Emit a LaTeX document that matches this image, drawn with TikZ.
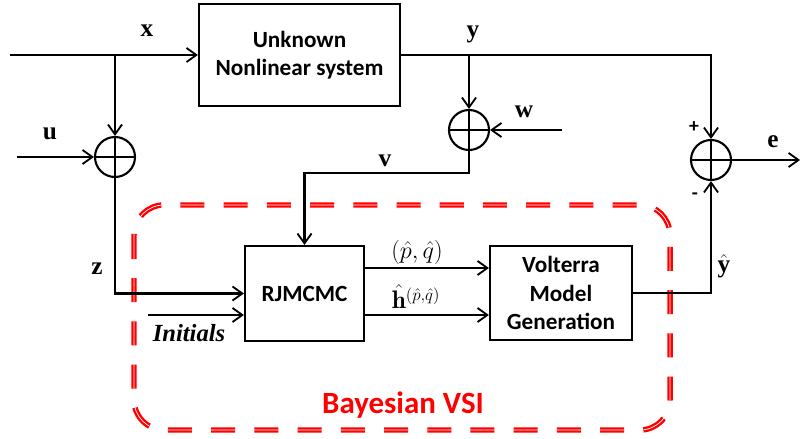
\documentclass[tikz,border=0pt]{standalone}
\usepackage{fontspec}
\usepackage{bm}
\setsansfont{Carlito}
\newfontfamily\lblfont{Liberation Serif}
\usetikzlibrary{arrows.meta}
\begin{document}
\begin{tikzpicture}[x={(0.025cm,0)},y={(0,-0.025cm)},
  line width=1.5pt,
  conn/.style={-{Straight Barb[length=7pt,width=10pt,line width=1.3pt]}},
  blk/.style={draw,line width=1.5pt,align=center,inner sep=0pt,
    font=\sffamily\bfseries\fontsize{16.5}{20}\selectfont},
  sumnode/.style={draw,circle,line width=1.5pt,minimum size=1cm,inner sep=0pt,
    path picture={\draw[line width=1.5pt] (path picture bounding box.north) -- (path picture bounding box.south)
      (path picture bounding box.west) -- (path picture bounding box.east);}},
  sig/.style={font=\lblfont\bfseries\fontsize{18}{21}\selectfont,inner sep=0pt},
  lbl/.style={font=\fontsize{18}{21}\selectfont,inner sep=0pt},
  sgn/.style={font=\sffamily\bfseries\fontsize{14}{16}\selectfont,inner sep=0pt},
  bayes/.style={draw=red,line width=1.7pt,double=white,double distance=0.5pt,
    dash pattern=on 0.6cm off 0.48cm,rounded corners=0.75cm},
  bayeslbl/.style={text=red,font=\sffamily\bfseries\fontsize{22}{26}\selectfont,inner sep=0pt}]
\useasboundingbox (0,0) rectangle (800,439);

% Bayesian VSI frame
\draw[bayes] (134,205) rectangle (670,430);
\node[bayeslbl] (bvsi) at (403,405) {Bayesian VSI};

% blocks
\node[blk,minimum width=5.025cm,minimum height=2.55cm] (ukn) at (299.5,55) {Unknown\\Nonlinear system};
\node[blk,minimum width=2.975cm,minimum height=2.375cm] (rj) at (304.5,293.5) {RJMCMC};
\node[blk,minimum width=3.55cm,minimum height=2.35cm] (vol) at (561,293) {Volterra\\Model\\Generation};

% summing junctions
\node[sumnode] (s1) at (115,157) {};
\node[sumnode] (s2) at (469,130) {};
\node[sumnode] (s3) at (711,160) {};

% free ends and branch points
\coordinate (xin) at (10,55);
\coordinate (xb) at (115,55);
\coordinate (uin) at (17,157);
\coordinate (yb) at (469,55);
\coordinate (win) at (562,130);
\coordinate (vc) at (304.5,173);
\coordinate (ein) at (800,160);
\coordinate (initin) at (148,315);
\coordinate (pq) at (0,268);
\coordinate (hh) at (0,315);

% connectors
\draw[conn] (xin) -- (ukn.west);
\draw[conn] (xb) -- (s1.north);
\draw[conn] (uin) -- (s1.west);
\draw[conn] (s1.south) |- (rj.west);
\draw[conn] (initin) -- (rj.west |- initin);
\draw[conn] (ukn.east) -| (s3.north);
\draw[conn] (yb) -- (s2.north);
\draw[conn] (win) -- (s2.east);
\draw[conn] (s2.south) |- (vc) -- (rj.north);
\draw[conn] (rj.east |- pq) -- (vol.west |- pq);
\draw[conn] (rj.east |- hh) -- (vol.west |- hh);
\draw[conn] (vol.east) -| (s3.south);
\draw[conn] (s3.east) -- (ein);

% labels
\node[sig] (lx) at (147,31) {x};
\node[sig] (ly) at (473,34) {y};
\node[sig] (lu) at (50,134) {u};
\node[sig] (lw) at (524,112) {w};
\node[sig] (lv) at (385,161) {v};
\node[sig] (lz) at (97,269) {z};
\node[sig] (le) at (773,142) {e};
\node[sgn] (lp) at (694,127) {+};
\node[sgn] (lm) at (695,196) {-};
\node[lbl] (lyh) at (724,266) {$\hat{\hbox{\lblfont\bfseries y}}$};
\node[lbl] (lpq) at (417,252) {$(\hat{p},\hat{q})$};
\node[lbl] (lh) at (416,297) {$\hat{\mathbf{h}}^{(\hat{p},\hat{q})}$};
\node[sig,font=\lblfont\bfseries\itshape\fontsize{17.5}{20}\selectfont] (lini) at (189,333) {Initials};
\end{tikzpicture}
\end{document}
